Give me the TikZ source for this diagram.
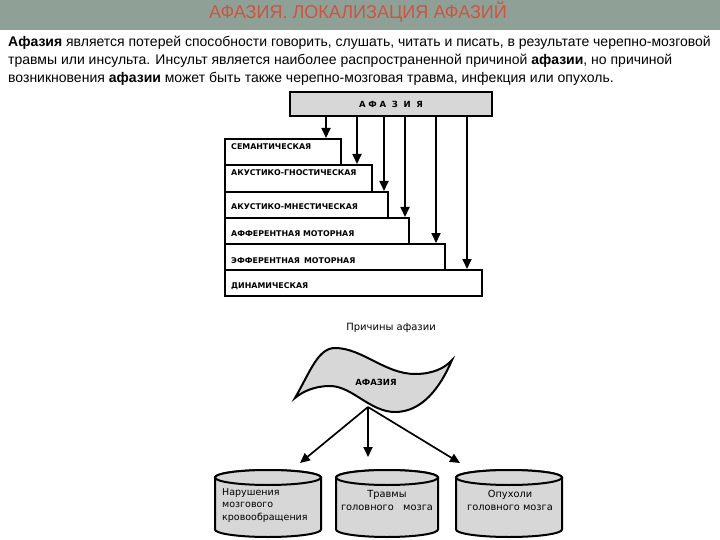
\documentclass[tikz,border=0pt]{standalone}
\usepackage{fontspec}
\setmainfont{Liberation Sans}
\newfontfamily\titlefont[FakeStretch=0.97]{Liberation Sans}
\newfontfamily\dvs{DejaVu Sans}
\usetikzlibrary{arrows.meta}
\definecolor{hdr}{RGB}{143,161,150}
\definecolor{ttl}{RGB}{208,82,64}
\definecolor{boxgray}{RGB}{215,215,215}
\begin{document}
\begin{tikzpicture}[x=1pt,y=-1pt,
  stairbox/.style={draw=black, line width=2pt, fill=white, anchor=north west, inner sep=0},
  stairlab/.style={anchor=west, font=\dvs\bfseries\fontsize{7.9}{9}\selectfont, inner sep=0},
  arr/.style={line width=1.7pt, -{Triangle[width=9pt,length=10pt]}},
  cylst/.style={draw=black, line width=2pt, fill=boxgray},
  cyltext/.style={inner sep=0},
  para/.style={anchor=base west, inner sep=0, font=\fontsize{14}{16}\selectfont}
]
\useasboundingbox (0,0) rectangle (720,540);
\fill[white] (0,0) rectangle (720,540);
% header
\fill[hdr] (0,0) rectangle (720,30);
\node[inner sep=0, anchor=base, text=ttl, font=\titlefont\fontsize{18.6}{20}\selectfont] (title) at (358,18.3) {АФАЗИЯ. ЛОКАЛИЗАЦИЯ АФАЗИЙ};
% paragraph
\node[para] (p1) at (8,46.5) {\textbf{Афазия} является потерей способности говорить, слушать, читать и писать, в результате черепно-мозговой};
\node[para] (p2) at (8,64.5) {травмы или инсульта. Инсульт является наиболее распространенной причиной \textbf{афазии}, но причиной};
\node[para] (p3) at (8,82.5) {возникновения \textbf{афазии} может быть также черепно-мозговая травма, инфекция или опухоль.};
% top box
\node[draw=black, line width=2pt, fill=boxgray, minimum width=202pt, minimum height=24pt, inner sep=0,
  font=\dvs\bfseries\fontsize{8.5}{9}\selectfont] (afz) at (391,104) {А\,\,Ф\,\,А\,\,\,\,З\,\,\,\,И\,\,\,\,Я};
% stairs
\node[stairbox, minimum width=116pt, minimum height=26pt] (s1) at (224,138) {};
\node[stairbox, minimum width=147pt, minimum height=27pt] (s2) at (224,164) {};
\node[stairbox, minimum width=163pt, minimum height=26pt] (s3) at (224,191) {};
\node[stairbox, minimum width=184pt, minimum height=26pt] (s4) at (224,217) {};
\node[stairbox, minimum width=220pt, minimum height=26pt] (s5) at (224,243) {};
\node[stairbox, minimum width=257pt, minimum height=26pt] (s6) at (224,269) {};
\node[stairlab] (l1) at (231,147) {СЕМАНТИЧЕСКАЯ};
\node[stairlab] (l2) at (231,173) {АКУСТИКО-ГНОСТИЧЕСКАЯ};
\node[stairlab] (l3) at (231,207) {АКУСТИКО-МНЕСТИЧЕСКАЯ};
\node[stairlab] (l4) at (231,234) {АФФЕРЕНТНАЯ МОТОРНАЯ};
\node[stairlab] (l5) at (231,261) {ЭФФЕРЕНТНАЯ\, МОТОРНАЯ};
\node[stairlab] (l6) at (231,286) {ДИНАМИЧЕСКАЯ};
\coordinate (x1) at (326,0);
\coordinate (x2) at (357,0);
\coordinate (x3) at (384,0);
\coordinate (x4) at (405,0);
\coordinate (x5) at (436,0);
\coordinate (x6) at (467,0);
\draw[arr] (afz.south -| x1) -- (s1.north -| x1);
\draw[arr] (afz.south -| x2) -- (s2.north -| x2);
\draw[arr] (afz.south -| x3) -- (s3.north -| x3);
\draw[arr] (afz.south -| x4) -- (s4.north -| x4);
\draw[arr] (afz.south -| x5) -- (s5.north -| x5);
\draw[arr] (afz.south -| x6) -- (s6.north -| x6);
% causes
\node[font=\dvs\fontsize{10}{11}\selectfont, inner sep=0] (causes) at (391,328) {Причины афазии};
\draw[line width=2pt, fill=boxgray]
  (295,398) .. controls (310,372) and (318,348) .. (335,348)
  .. controls (362,348) and (385,374) .. (415,374)
  .. controls (433,374) and (445,368) .. (452,360)
  .. controls (440,388) and (422,412) .. (395,412)
  .. controls (370,412) and (352,386) .. (330,386)
  .. controls (314,386) and (302,392) .. (295,398) -- cycle;
\node[font=\dvs\bfseries\fontsize{8.5}{9}\selectfont, inner sep=0] (flag) at (376,382) {АФАЗИЯ};
\coordinate (fb) at (368,407);
% cylinders
\draw[cylst] (215,477.5) -- (215,529.5) arc[start angle=180,end angle=360,x radius=53pt,y radius=7.5pt] -- (321,477.5) arc[start angle=0,end angle=180,x radius=53pt,y radius=7.5pt] -- cycle;
\draw[cylst] (268,477.5) ellipse[x radius=53pt, y radius=7.5pt];
\draw[cylst] (336,477.5) -- (336,529.5) arc[start angle=180,end angle=360,x radius=51pt,y radius=7.5pt] -- (438,477.5) arc[start angle=0,end angle=180,x radius=51pt,y radius=7.5pt] -- cycle;
\draw[cylst] (387,477.5) ellipse[x radius=51pt, y radius=7.5pt];
\draw[cylst] (456,477.5) -- (456,529.5) arc[start angle=180,end angle=360,x radius=53pt,y radius=7.5pt] -- (562,477.5) arc[start angle=0,end angle=180,x radius=53pt,y radius=7.5pt] -- cycle;
\draw[cylst] (509,477.5) ellipse[x radius=53pt, y radius=7.5pt];
\node[cyltext, anchor=north west, align=left, font=\dvs\fontsize{9.5}{12.5}\selectfont] (c1) at (222,488) {Нарушения\\мозгового\\кровообращения};
\node[cyltext, anchor=north, align=center, font=\dvs\fontsize{9.8}{13.5}\selectfont] (c2) at (387,490) {Травмы\\головного\ \ \ мозга};
\node[cyltext, anchor=north, align=center, font=\dvs\fontsize{9.8}{13.5}\selectfont] (c3) at (510,490) {Опухоли\\головного мозга};
\coordinate (t1) at (300,463);
\coordinate (t2) at (368,457);
\coordinate (t3) at (460,463);
\draw[arr] (fb) -- (t1);
\draw[arr] (fb) -- (t2);
\draw[arr] (fb) -- (t3);
\end{tikzpicture}
\end{document}
